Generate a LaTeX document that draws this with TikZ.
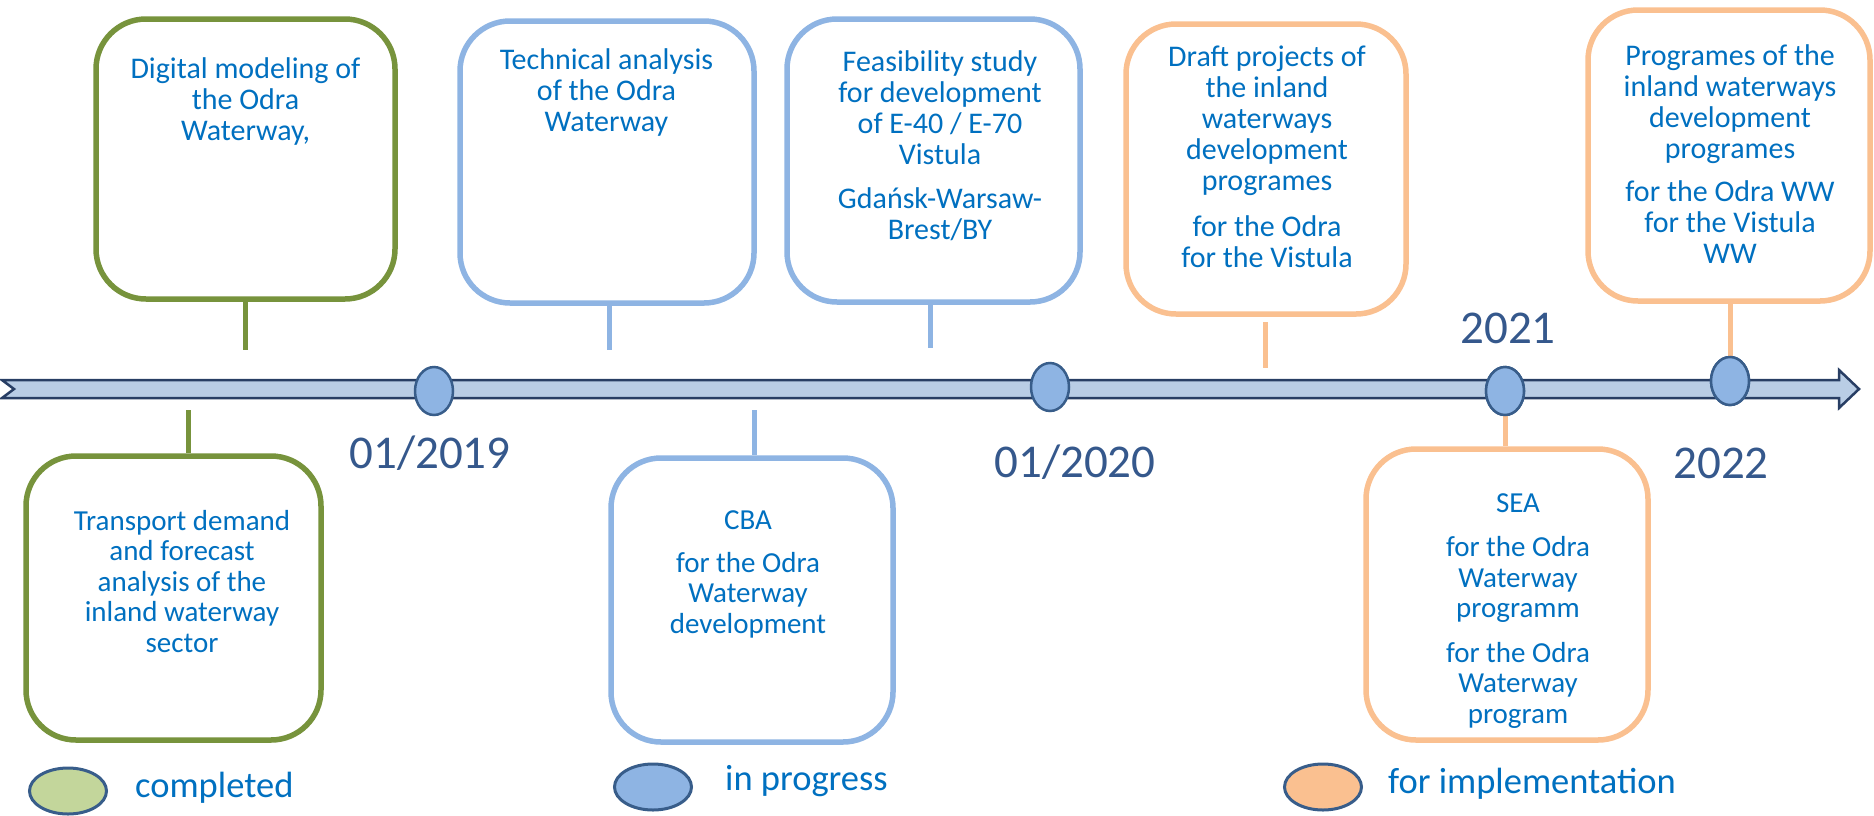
\documentclass[tikz,border=0pt]{standalone}
\usepackage{fontspec}
\setmainfont{Carlito}
\usetikzlibrary{shapes.geometric}
\definecolor{txtblue}{RGB}{0,112,192}
\definecolor{dateblue}{RGB}{53,88,140}
\definecolor{cgreen}{RGB}{119,147,60}
\definecolor{cblue}{RGB}{142,180,227}
\definecolor{corange}{RGB}{250,192,144}
\definecolor{lgreen}{RGB}{195,214,155}
\definecolor{navy}{RGB}{56,93,138}
\definecolor{barfill}{RGB}{185,205,229}
\definecolor{barline}{RGB}{40,62,100}
\begin{document}
\begin{tikzpicture}[x=1pt,y=-1pt,
  tbox/.style={draw, rounded corners=50pt, line width=5.5pt, inner sep=0pt, fill=white},
  boxtxt/.style={align=center, text=txtblue, font=\fontsize{30}{31}\selectfont, anchor=base, inner sep=0pt},
  lowtxt/.style={boxtxt, font=\fontsize{29}{30.5}\selectfont},
  stemline/.style={line width=5pt},
  mstone/.style={ellipse, draw=navy, fill=cblue, line width=2.5pt, minimum width=38pt, minimum height=48pt, inner sep=0pt},
  datelbl/.style={text=dateblue, font=\fontsize{47}{56}\selectfont, anchor=base, inner sep=0pt},
  legdot/.style={ellipse, draw=navy, line width=3pt, minimum width=77pt, minimum height=46pt, inner sep=0pt},
  legtxt/.style={text=txtblue, font=\fontsize{36.5}{44}\selectfont, anchor=base west, inner sep=0pt}
]
\useasboundingbox (0,0) rectangle (1874,815);

% timeline bar
\draw[barline, fill=barfill, line width=2.5pt] (2,380) -- (1839,380) -- (1839,370) -- (1859,389) -- (1839,408) -- (1839,398) -- (2,398) -- (14,389) -- cycle;

% boxes
\node[tbox, draw=cgreen, minimum width=299pt, minimum height=280pt] (b1) at (245.5,159) {};
\node[tbox, draw=cblue, minimum width=294pt, minimum height=282pt] (b2) at (607,162) {};
\node[tbox, draw=cblue, minimum width=293pt, minimum height=283pt] (b3) at (933.5,160.5) {};
\node[tbox, draw=corange, minimum width=280pt, minimum height=290pt] (b4) at (1266,169) {};
\node[tbox, draw=corange, minimum width=282pt, minimum height=291pt] (b5) at (1729,155.5) {};
\node[tbox, draw=cgreen, minimum width=295pt, minimum height=284pt] (b6) at (173.5,598) {};
\node[tbox, draw=cblue, minimum width=282pt, minimum height=284pt] (b7) at (752,600) {};
\node[tbox, draw=corange, minimum width=282pt, minimum height=291pt] (b8) at (1507,594.5) {};

% milestones
\node[mstone] (m1) at (434,391) {};
\node[mstone] (m2) at (1050,387) {};
\node[mstone] (m3) at (1505,391) {};
\node[mstone] (m4) at (1730,381) {};

% stems
\coordinate (e1) at (245.5,350);
\coordinate (e2) at (609,350);
\coordinate (e3) at (930,348);
\coordinate (s4a) at (1265,322);
\coordinate (e4) at (1265,368);
\coordinate (e6) at (188,410);
\coordinate (e7) at (754,410);
\draw[stemline, cgreen] (b1.south -| e1) -- (e1);
\draw[stemline, cblue] (b2.south -| e2) -- (e2);
\draw[stemline, cblue] (b3.south -| e3) -- (e3);
\draw[stemline, corange] (s4a) -- (e4);
\draw[stemline, corange] (b5.south -| m4) -- (m4.north);
\draw[stemline, cgreen] (e6) -- (b6.north -| e6);
\draw[stemline, cblue] (e7) -- (b7.north -| e7);
\draw[stemline, corange] (m3.south) -- (b8.north -| m3);
\node[mstone] at (m3) {};
\node[mstone] at (m4) {};

% box texts (anchored at the baseline of the last line)
\node[boxtxt] (t1) at (245.5,140) {Digital modeling of\\the Odra\\Waterway,};
\node[boxtxt] (t2) at (606.5,131) {Technical analysis\\of the Odra\\Waterway};
\node[boxtxt] (t3) at (940,239) {Feasibility study\\for development\\of E-40 / E-70\\Vistula\\[13pt]Gdańsk-Warsaw-\\Brest/BY};
\node[boxtxt] (t4) at (1267,267) {Draft projects of\\the inland\\waterways\\development\\programes\\[15pt]for the Odra\\for the Vistula};
\node[boxtxt] (t5) at (1730,263) {Programes of the\\inland waterways\\development\\programes\\[12pt]for the Odra WW\\for the Vistula\\WW};
\node[lowtxt] (t6) at (182,652) {Transport demand\\and forecast\\analysis of the\\inland waterway\\sector};
\node[lowtxt] (t7) at (748,633) {CBA\\[12pt]for the Odra\\Waterway\\development};
\node[lowtxt] (t8) at (1518,723) {SEA\\[14pt]for the Odra\\Waterway\\programm\\[14pt]for the Odra\\Waterway\\program};

% dates
\node[datelbl] (d1) at (430,468) {01/2019};
\node[datelbl] (d2) at (1075,477) {01/2020};
\node[datelbl] (d3) at (1508,343) {2021};
\node[datelbl] (d4) at (1721,478) {2022};

% legend
\node[legdot, fill=lgreen] (l1) at (68,791) {};
\node[legtxt] (lt1) at (135,797) {completed};
\node[legdot, fill=cblue] (l2) at (653,787) {};
\node[legtxt] (lt2) at (725,790) {in progress};
\node[legdot, fill=corange] (l3) at (1323,787) {};
\node[legtxt] (lt3) at (1388,793) {for implementation};
\end{tikzpicture}
\end{document}
